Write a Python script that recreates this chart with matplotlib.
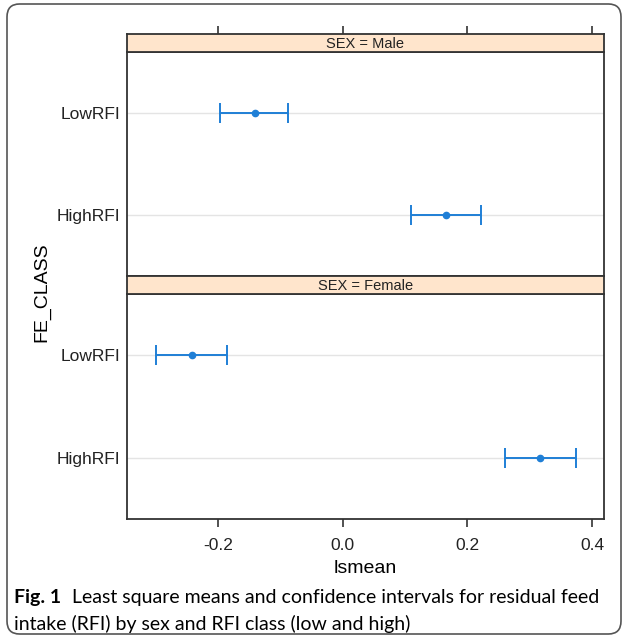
import matplotlib
matplotlib.use('Agg')
import matplotlib.pyplot as plt
from matplotlib.patches import FancyBboxPatch

# lsmeans and confidence limits
levels = ['HighRFI', 'LowRFI']
panels = ['Male', 'Female']
lsmean = {'Male': [0.165, -0.141], 'Female': [0.316, -0.242]}
lower = {'Male': [0.109, -0.197], 'Female': [0.261, -0.300]}
upper = {'Male': [0.221, -0.087], 'Female': [0.374, -0.186]}
xticks = [-0.2, 0.0, 0.2, 0.4]
xtick_labels = ['-0.2', '0.0', '0.2', '0.4']

W, H = 627, 644
fig = plt.figure(figsize=(W / 100, H / 100), dpi=100)
plt.rcParams['font.family'] = ['Liberation Sans', 'DejaVu Sans']

def px(x0, y0, x1, y1):
    # pixel box (top-left origin) -> figure fraction rect
    return [x0 / W, 1 - y1 / H, (x1 - x0) / W, (y1 - y0) / H]

frame_col = '#333333'
blue = '#1f7fd6'
strip_col = '#ffe5cc'

# outer rounded box
box = FancyBboxPatch((7 / W, 10 / H), 614 / W, 630 / H,
                     boxstyle='round,pad=0,rounding_size=0.02',
                     transform=fig.transFigure, fill=False,
                     edgecolor='#555555', lw=1.2)
fig.patches.append(box)

panel_rects = {'Male': (127, 52, 604, 276), 'Female': (127, 294, 604, 519)}
strip_rects = {'Male': (127, 34, 604, 52), 'Female': (127, 276, 604, 294)}
xlim = (-0.346, 0.419)

for p in panels:
    ax = fig.add_axes(px(*panel_rects[p]))
    ypos = list(range(1, len(levels) + 1))
    for y in ypos:
        ax.axhline(y, color='#e4e4e4', lw=1, zorder=0)
    xerr = [[m - lo for m, lo in zip(lsmean[p], lower[p])],
            [hi - m for m, hi in zip(lsmean[p], upper[p])]]
    ax.errorbar(lsmean[p], ypos, xerr=xerr, fmt='o', color=blue,
                ms=4.5, elinewidth=1.4, capsize=7, capthick=1.4, zorder=3)
    ax.set_xlim(*xlim)
    ax.set_ylim(0.4, 2.6)
    ax.set_yticks(ypos)
    ax.set_yticklabels(levels, fontsize=12.5, color='#222222')
    ax.tick_params(axis='y', length=0, pad=5)
    for s in ax.spines.values():
        s.set_color(frame_col)
        s.set_linewidth(1.3)
    if p == 'Female':
        ax.set_xticks(xticks)
        ax.set_xticklabels(xtick_labels, fontsize=12.5, color='#222222')
        ax.tick_params(axis='x', length=6, width=1.2, color=frame_col, pad=8)
        ax.set_xlabel('lsmean', fontsize=14, labelpad=5)
    else:
        ax.set_xticks([])

    sax = fig.add_axes(px(*strip_rects[p]))
    sax.set_facecolor(strip_col)
    sax.set_xlim(*xlim)
    sax.set_yticks([])
    if p == 'Male':
        sax.set_xticks(xticks)
        sax.set_xticklabels([])
        sax.tick_params(axis='x', top=True, bottom=False, length=6, width=1.2,
                        color=frame_col, labeltop=False, labelbottom=False)
    else:
        sax.set_xticks([])
    for s in sax.spines.values():
        s.set_color(frame_col)
        s.set_linewidth(1.3)
    sax.text(0.5, 0.45, 'SEX = ' + p, transform=sax.transAxes, ha='center',
             va='center', fontsize=10.5, color='#222222')

fig.text(42 / W, 1 - 292 / H, 'FE_CLASS', rotation=90, ha='center',
         va='center', fontsize=14)

# caption
cap_font = ['Lato', 'DejaVu Sans']
cap_size = 14
bold = fig.text(14 / W, 1 - 598 / H, 'Fig. 1', fontsize=cap_size,
                fontweight='bold', family=cap_font, va='center')
fig.canvas.draw()
bb = bold.get_window_extent()
fig.text((bb.x1 + 11) / W, 1 - 598 / H,
         'Least square means and confidence intervals for residual feed',
         fontsize=cap_size, family=cap_font, va='center')
fig.text(14 / W, 1 - 624 / H, 'intake (RFI) by sex and RFI class (low and high)',
         fontsize=cap_size, family=cap_font, va='center')

fig.savefig('out.png', dpi=100)
